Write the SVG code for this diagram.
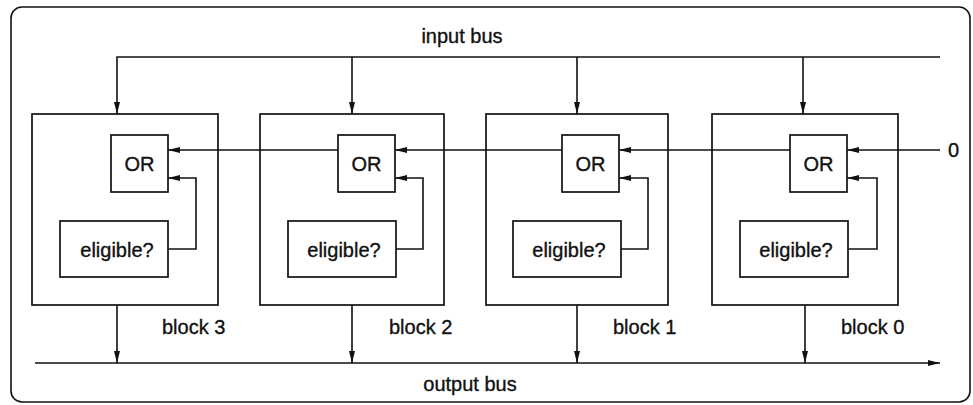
<svg xmlns="http://www.w3.org/2000/svg" width="973" height="405" viewBox="0 0 973 405">
  <style>
    .ln { fill: none; stroke: #111; stroke-width: 1.6; }
    .box { fill: #fff; stroke: #111; stroke-width: 1.7; }
    .t { font-family: "Liberation Sans", Arial, sans-serif; font-size: 20px; fill: #111; stroke: #111; stroke-width: 0.35; }
    .c { text-anchor: middle; }
  </style>
  <defs>
    <marker id="ah" viewBox="0 0 12 6" refX="12" refY="3" markerWidth="12" markerHeight="6" markerUnits="userSpaceOnUse" orient="auto">
      <path d="M0,0 L12,3 L0,6 Z" fill="#111"/>
    </marker>
  </defs>

  <rect x="11" y="7" width="959" height="395" rx="11" class="ln"/>
  <text class="t c" x="462" y="43">input bus</text>
  <text class="t c" x="470" y="391">output bus</text>
  <text class="t" x="948" y="157">0</text>

  <g id="block3">
    <rect x="32" y="114" width="186" height="191" class="box"/>
    <rect x="111" y="135" width="57" height="57" class="box"/>
    <text class="t c" x="139.5" y="171">OR</text>
    <rect x="60" y="221" width="108" height="56" class="box"/>
    <text class="t c" x="117" y="257">eligible?</text>
    <text class="t" x="162" y="334">block 3</text>
  </g>
  <g id="block2">
    <rect x="260" y="114" width="184" height="191" class="box"/>
    <rect x="338" y="135" width="57" height="57" class="box"/>
    <text class="t c" x="366.5" y="171">OR</text>
    <rect x="288" y="221" width="108" height="56" class="box"/>
    <text class="t c" x="344" y="257">eligible?</text>
    <text class="t" x="389" y="334">block 2</text>
  </g>
  <g id="block1">
    <rect x="486" y="114" width="182" height="191" class="box"/>
    <rect x="562" y="135" width="57" height="57" class="box"/>
    <text class="t c" x="590.5" y="171">OR</text>
    <rect x="513" y="221" width="108" height="56" class="box"/>
    <text class="t c" x="569" y="257">eligible?</text>
    <text class="t" x="613" y="334">block 1</text>
  </g>
  <g id="block0">
    <rect x="712" y="114" width="186" height="191" class="box"/>
    <rect x="790" y="135" width="57" height="57" class="box"/>
    <text class="t c" x="818.5" y="171">OR</text>
    <rect x="740" y="221" width="108" height="56" class="box"/>
    <text class="t c" x="796" y="257">eligible?</text>
    <text class="t" x="841" y="334">block 0</text>
  </g>

  <g id="connectors">
    <!-- input bus and its drops -->
    <path class="ln" d="M940,57 H117 V114" marker-end="url(#ah)"/>
    <path class="ln" d="M352,57 V114" marker-end="url(#ah)"/>
    <path class="ln" d="M577,57 V114" marker-end="url(#ah)"/>
    <path class="ln" d="M803,57 V114" marker-end="url(#ah)"/>
    <!-- OR chain -->
    <path class="ln" d="M940,150 H847" marker-end="url(#ah)"/>
    <path class="ln" d="M790,150 H619" marker-end="url(#ah)"/>
    <path class="ln" d="M562,150 H395" marker-end="url(#ah)"/>
    <path class="ln" d="M338,150 H168" marker-end="url(#ah)"/>
    <!-- eligible feedback -->
    <path class="ln" d="M168,249 H196 V178 H168" marker-end="url(#ah)"/>
    <path class="ln" d="M396,249 H423 V178 H395" marker-end="url(#ah)"/>
    <path class="ln" d="M621,249 H648 V178 H619" marker-end="url(#ah)"/>
    <path class="ln" d="M848,249 H877 V178 H847" marker-end="url(#ah)"/>
    <!-- block outputs -->
    <path class="ln" d="M117,305 V363" marker-end="url(#ah)"/>
    <path class="ln" d="M352,305 V363" marker-end="url(#ah)"/>
    <path class="ln" d="M577,305 V363" marker-end="url(#ah)"/>
    <path class="ln" d="M805,305 V363" marker-end="url(#ah)"/>
    <!-- output bus -->
    <path class="ln" d="M35,363 H940" marker-end="url(#ah)"/>
  </g>
</svg>
